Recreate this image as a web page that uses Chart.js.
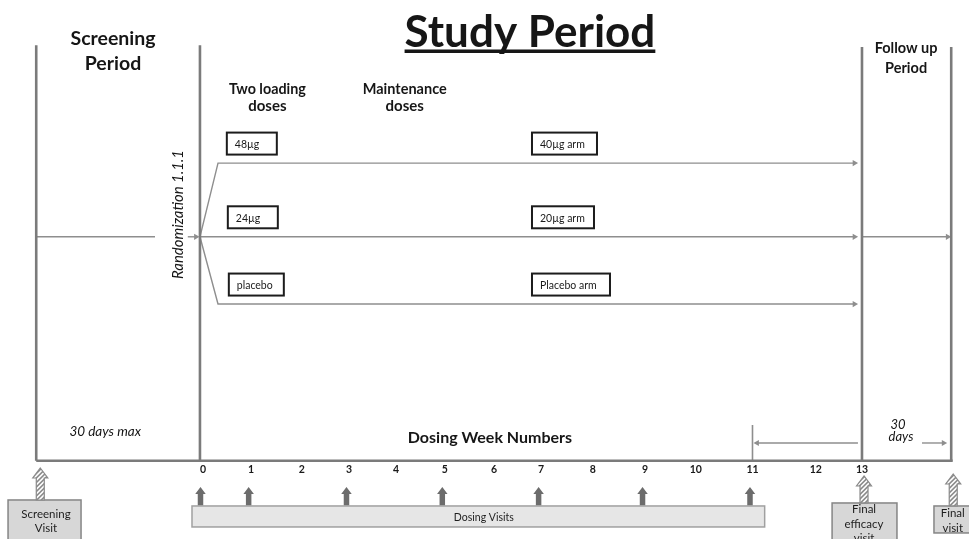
<!DOCTYPE html>
<html>
<head>
<meta charset="utf-8">
<script src="https://cdn.jsdelivr.net/npm/chart.js@4.4.1/dist/chart.umd.min.js"></script>
<style>
  html, body { margin: 0; padding: 0; background: #fff; }
  #wrap { width: 969px; height: 539px; }
</style>
</head>
<body>
<div id="wrap"><canvas id="studyChart" width="969" height="539"></canvas></div>
<script>
// timeline is in dosing weeks, week 0 = randomization
const weekLabels = ['0', '1', '2', '3', '4', '5', '6', '7', '8', '9', '10', '11', '12', '13'];
// where each week number sits on the (hand drawn, slightly uneven) axis
const weekPos = [0, 0.95, 1.95, 2.88, 3.81, 4.77, 5.74, 6.67, 7.69, 8.72, 9.72, 10.84, 12.09, 13];
const dosingVisitWeeks = [0, 1, 3, 5, 7, 9, 11];
// screening start, randomization, final efficacy visit, final visit
const phaseBounds = [-3.29, -0.06, 13, 14.76];
const loadingDoses = ['48µg', '24µg', 'placebo'];
const maintenanceArms = ['40µg arm', '20µg arm', 'Placebo arm'];
const armLevels = [64.6, 48.6, 34.0];

const FONT = 'Lato, "Open Sans", sans-serif';
const LINE = '#8e8e8e';
const FRAME = '#7b7b7b';

// helper: one line dataset, optional arrow head on its last point
function lineSet(pts, color, width, arrow) {
  const last = pts.length - 1;
  return {
    data: pts.map(([x, y]) => ({ x, y })),
    borderColor: color,
    borderWidth: width,
    backgroundColor: color,
    pointStyle: 'triangle',
    pointRotation: arrow === 'left' ? -90 : 90,
    pointRadius: pts.map((_, i) => (arrow && i === last ? 3.6 : 0)),
    pointBorderWidth: 0,
    pointBackgroundColor: color,
    tension: 0,
    fill: false
  };
}

const datasets = [];

// period boundaries + baseline
phaseBounds.forEach((b, i) => {
  datasets.push(lineSet([[b, i < 2 ? 90.2 : 89.8], [b, 0]], FRAME, 2.6));
});
datasets.push(lineSet([[phaseBounds[0], 0], [phaseBounds[3] + 0.03, 0]], FRAME, 2.6));

// screening lead-in to randomization
const rand = armLevels[1];
datasets.push(lineSet([[phaseBounds[0], rand], [-0.947, rand]], LINE, 1.4));
datasets.push(lineSet([[-0.3, rand], [-0.14, rand]], LINE, 1.4, 'right'));

// the three treatment arms
armLevels.forEach(level => {
  const pts = [[phaseBounds[1], rand]];
  if (level !== rand) pts.push([0.296, level]);
  pts.push([12.852, level]);
  datasets.push(lineSet(pts, LINE, 1.4, 'right'));
});
// follow up
datasets.push(lineSet([[phaseBounds[2], rand], [14.69, rand]], LINE, 1.4, 'right'));

// week 11 -> 13 marker, and 30 days arrow
datasets.push(lineSet([[weekPos[11], 7.75], [weekPos[11], 0]], LINE, 1.6));
datasets.push(lineSet([[12.92, 3.84], [10.93, 3.84]], LINE, 1.4, 'left'));
datasets.push(lineSet([[14.183, 3.84], [14.61, 3.84]], LINE, 1.4, 'right'));

const notes = [
  { t: 'Study Period', x: 6.45, y: 89.8, size: 44, bold: true, w: 261, underline: true },
  { t: 'Screening', x: -1.775, y: 90.34, size: 19.5, bold: true, w: 89 },
  { t: 'Period', x: -1.775, y: 84.81, size: 19.5, bold: true },
  { t: 'Two loading', x: 1.27, y: 79.6, size: 15, bold: true, w: 77 },
  { t: 'doses', x: 1.27, y: 75.91, size: 15, bold: true },
  { t: 'Maintenance', x: 3.98, y: 79.6, size: 15, bold: true, w: 84 },
  { t: 'doses', x: 3.98, y: 75.91, size: 15, bold: true },
  { t: 'Follow up', x: 13.87, y: 88.56, size: 14.5, bold: true, w: 66 },
  { t: 'Period', x: 13.87, y: 84.22, size: 14.5, bold: true },
  { t: 'Randomization 1.1.1', x: -0.394, y: 53.44, size: 15.5, italic: true, w: 129, rotate: true },
  { t: '30 days max', x: -1.93, y: 5.36, size: 13.5, italic: true, w: 78 },
  { t: 'Dosing Week Numbers', x: 5.66, y: 3.84, size: 16, bold: true, w: 167 },
  { t: '30', x: 13.71, y: 6.88, size: 13, italic: true },
  { t: 'days', x: 13.77, y: 4.28, size: 13, italic: true }
];

const visitBoxes = [
  { x0: -0.217, x1: 11.08, y0: -9.83, y1: -14.39, fill: '#e6e6e6', stroke: '#a0a0a0',
    lines: [['Dosing Visits', -13.11]], cx: 5.54, size: 10.5 },
  { x0: -3.846, x1: -2.406, y0: -8.53, y1: -18.4, fill: '#d7d7d7', stroke: '#858585',
    lines: [['Screening', -12.46], ['Visit', -15.5]], cx: -3.097, size: 11.5 },
  { x0: 12.41, x1: 13.69, y0: -9.18, y1: -18.4, fill: '#d7d7d7', stroke: '#858585',
    lines: [['Final', -11.37], ['efficacy', -14.55], ['visit', -17.66]], cx: 13.04, size: 11.5 },
  { x0: 14.42, x1: 15.4, y0: -9.83, y1: -15.69, fill: '#d7d7d7', stroke: '#858585',
    lines: [['Final', -12.17], ['visit', -15.43]], cx: 14.79, size: 11.5 }
];

// hatched arrows: screening visit, final efficacy visit, final visit
const hatchedVisits = [
  { x: phaseBounds[0] + 0.08, top: -1.59, bottom: -8.53 },
  { x: phaseBounds[2] + 0.04, top: -3.32, bottom: -9.18 },
  { x: phaseBounds[3] + 0.04, top: -2.89, bottom: -9.83 }
];

function font(n) {
  return (n.italic ? 'italic ' : '') + (n.bold ? 'bold ' : '') + n.size + 'px ' + FONT;
}

function arrowPath(ctx, cx, top, bottom, headW, headH, shaftW) {
  ctx.beginPath();
  ctx.moveTo(cx, top);
  ctx.lineTo(cx + headW / 2, top + headH);
  ctx.lineTo(cx + shaftW / 2, top + headH);
  ctx.lineTo(cx + shaftW / 2, bottom);
  ctx.lineTo(cx - shaftW / 2, bottom);
  ctx.lineTo(cx - shaftW / 2, top + headH);
  ctx.lineTo(cx - headW / 2, top + headH);
  ctx.closePath();
}

const diagramPlugin = {
  id: 'diagram',
  afterDatasetsDraw(chart) {
    const { ctx, scales: { x, y } } = chart;
    const px = v => x.getPixelForValue(v);
    const py = v => y.getPixelForValue(v);
    ctx.save();
    ctx.textBaseline = 'alphabetic';

    // dose boxes sitting on the arm lines
    const boxH = 22;
    const loadW = [50, 50, 55];
    const armW = [65, 62, 78];
    const drawDoseBox = (left, level, w, label) => {
      const bottom = py(level) - 8.5;
      ctx.fillStyle = '#fff';
      ctx.fillRect(left, bottom - boxH, w, boxH);
      ctx.strokeStyle = '#1c1c1c';
      ctx.lineWidth = 2;
      ctx.strokeRect(left, bottom - boxH, w, boxH);
      ctx.fillStyle = '#1a1a1a';
      ctx.font = '10.5px ' + FONT;
      ctx.textAlign = 'left';
      ctx.fillText(label, left + 8, bottom - 6.5);
    };
    loadingDoses.forEach((d, i) => drawDoseBox(px(0.47) + i, armLevels[i], loadW[i], d));
    maintenanceArms.forEach((d, i) => drawDoseBox(px(6.49), armLevels[i], armW[i], d));

    // visit boxes
    visitBoxes.forEach(b => {
      const l = px(b.x0), r = px(b.x1), t = py(b.y0), btm = py(b.y1);
      ctx.fillStyle = b.fill;
      ctx.fillRect(l, t, r - l, btm - t);
      ctx.strokeStyle = b.stroke;
      ctx.lineWidth = 1.5;
      ctx.strokeRect(l, t, r - l, btm - t);
      ctx.fillStyle = '#1e1e1e';
      ctx.font = b.size + 'px ' + FONT;
      ctx.textAlign = 'center';
      b.lines.forEach(([txt, ly]) => ctx.fillText(txt, px(b.cx), py(ly)));
    });

    // solid dosing visit arrows
    ctx.fillStyle = '#6c6c6c';
    dosingVisitWeeks.forEach(w => {
      arrowPath(ctx, px(weekPos[w]) - 2.5, py(-5.71), py(-9.7), 10.5, 7, 5.5);
      ctx.fill();
    });

    // hatched arrows
    hatchedVisits.forEach(h => {
      const cx = px(h.x), top = py(h.top), bottom = py(h.bottom);
      ctx.save();
      arrowPath(ctx, cx, top, bottom, 15, 10, 8);
      ctx.fillStyle = '#fff';
      ctx.fill();
      ctx.clip();
      ctx.strokeStyle = '#8a8a8a';
      ctx.lineWidth = 1.6;
      for (let k = -10; k < 50; k += 4.5) {
        ctx.beginPath();
        ctx.moveTo(cx - 10, bottom - k + 10);
        ctx.lineTo(cx + 10, bottom - k - 10);
        ctx.stroke();
      }
      ctx.restore();
      arrowPath(ctx, cx, top, bottom, 15, 10, 8);
      ctx.strokeStyle = '#8a8a8a';
      ctx.lineWidth = 1.2;
      ctx.stroke();
    });

    // text labels
    ctx.fillStyle = '#161616';
    notes.forEach(n => {
      ctx.font = font(n);
      ctx.textAlign = 'center';
      const tx = px(n.x), ty = py(n.y);
      if (n.rotate) {
        ctx.save();
        ctx.translate(tx, ty);
        ctx.rotate(-Math.PI / 2);
        ctx.fillText(n.t, 0, 0, n.w);
        ctx.restore();
        return;
      }
      if (n.w) ctx.fillText(n.t, tx, ty, n.w);
      else ctx.fillText(n.t, tx, ty);
      if (n.underline) {
        const tw = Math.min(ctx.measureText(n.t).width, n.w);
        ctx.fillRect(tx - tw / 2, ty + 2.5, tw, 3.5);
      }
    });
    ctx.restore();
  }
};

new Chart(document.getElementById('studyChart'), {
  type: 'line',
  data: { datasets },
  options: {
    responsive: false,
    animation: false,
    events: [],
    layout: { padding: 0, autoPadding: false },
    plugins: { legend: { display: false }, tooltip: { enabled: false } },
    scales: {
      x: {
        type: 'linear',
        min: -4.0046,
        max: 15.111,
        position: { y: 0 },
        afterBuildTicks: s => { s.ticks = weekPos.map(v => ({ value: v })); },
        ticks: {
          autoSkip: false,
          maxRotation: 0,
          padding: 3,
          color: '#1a1a1a',
          font: { family: FONT, weight: 'bold', size: 10.5 },
          callback: (v, i) => weekLabels[i]
        },
        grid: { display: false, drawTicks: false },
        border: { display: false }
      },
      y: { type: 'linear', min: -17, max: 100, display: false }
    }
  },
  plugins: [diagramPlugin]
});
</script>
</body>
</html>
